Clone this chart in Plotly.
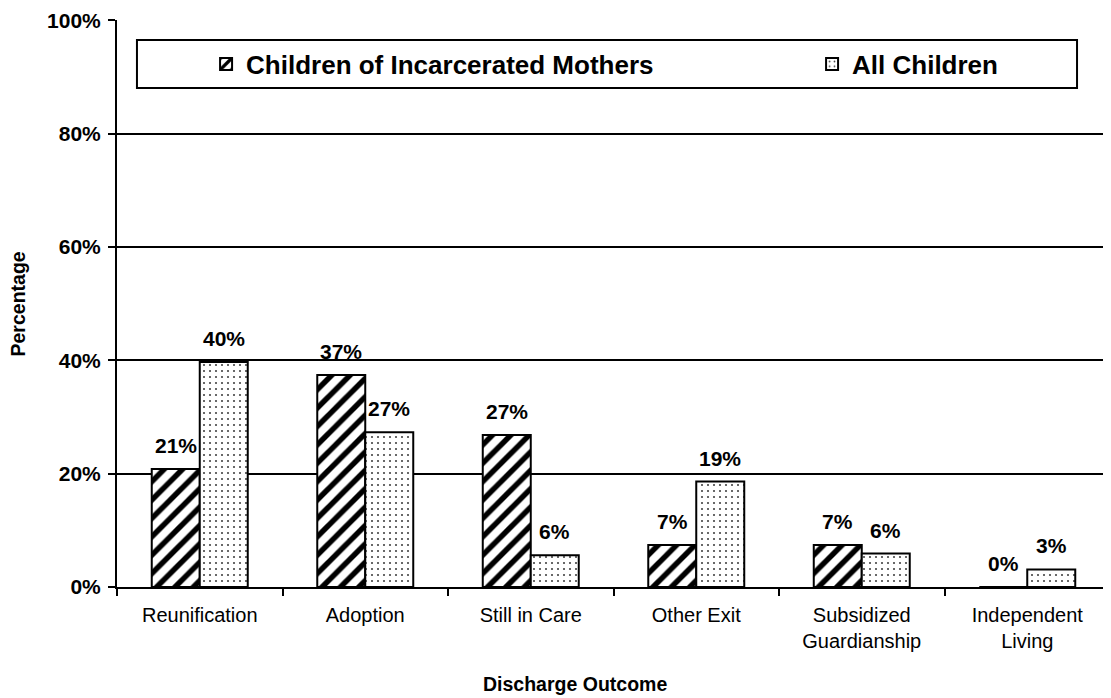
import plotly.graph_objects as go

categories = ["Reunification", "Adoption", "Still in Care", "Other Exit",
              "Subsidized<br>Guardianship", "Independent<br>Living"]
incarcerated = [20.8, 37.4, 26.8, 7.4, 7.4, 0.0]
all_children = [39.7, 27.3, 5.6, 18.6, 5.9, 3.1]
series_names = ["Children of Incarcerated Mothers", "All Children"]
y_ticks = [0, 20, 40, 60, 80, 100]

FONT = "Liberation Sans, Arial, sans-serif"
BARGAP = 0.42
PLOT_W = 1111 - 109 - 9


def labels(vals):
    return [f"{round(v)}%" for v in vals]


fig = go.Figure()
fig.add_trace(go.Bar(
    name=series_names[0], x=categories, y=incarcerated,
    legendwidth=561,
    marker=dict(color="white", line=dict(color="black", width=2),
                pattern=dict(shape="/", fgcolor="black", bgcolor="white",
                             size=13, solidity=0.42, fillmode="replace", fgopacity=1)),
))
fig.add_trace(go.Bar(
    name=series_names[1], x=categories, y=all_children,
    marker=dict(color="white", line=dict(color="black", width=2),
                pattern=dict(shape=".", fgcolor="#444444", bgcolor="white",
                             size=6, solidity=0.1, fillmode="replace", fgopacity=1)),
))

# value labels above each bar (offset by half a bar width within the group)
bar_px = PLOT_W / len(categories) * (1 - BARGAP) / 2
annotations = []
for vals, sign in ((incarcerated, -1), (all_children, 1)):
    for cat, v, t in zip(categories, vals, labels(vals)):
        annotations.append(dict(
            x=cat, y=v, xref="x", yref="y", text=t, showarrow=False,
            xanchor="center", yanchor="bottom", xshift=sign * bar_px / 2, yshift=10,
            font=dict(family=FONT, size=21, color="black", weight="bold")))

annotations += [
    dict(text="Discharge Outcome", xref="paper", yref="paper", x=0.461, y=-0.1711,
         xanchor="center", yanchor="middle", showarrow=False,
         font=dict(family=FONT, size=19.5, color="black", weight="bold")),
    dict(text="Percentage", xref="paper", yref="paper", x=-0.0997, y=0.5,
         xanchor="center", yanchor="middle", showarrow=False, textangle=-90,
         font=dict(family=FONT, size=19.5, color="black", weight="bold")),
]

fig.update_layout(
    width=1111, height=698,
    paper_bgcolor="white", plot_bgcolor="white",
    margin=dict(l=109, r=9, t=12, b=119, autoexpand=False),
    barmode="group", bargap=BARGAP, bargroupgap=0,
    font=dict(family=FONT, color="black"),
    showlegend=True,
    legend=dict(orientation="h", x=0.0897, xanchor="left", y=0.9224, yanchor="middle",
                bgcolor="rgba(0,0,0,0)", borderwidth=0,
                font=dict(family=FONT, size=26, color="black", weight="bold")),
    shapes=[dict(type="rect", xref="paper", yref="paper",
                 x0=0.0201, x1=0.9668, y0=0.8801, y1=0.9647,
                 line=dict(color="black", width=2), fillcolor="white", layer="above")],
    annotations=annotations,
)
fig.update_yaxes(range=[0, 100.05], tickvals=y_ticks, ticktext=[f"{v}%" for v in y_ticks],
                 showgrid=True, gridcolor="black", gridwidth=2,
                 showline=True, linecolor="black", linewidth=2,
                 ticks="outside", ticklen=7, tickwidth=2, tickcolor="black",
                 ticklabelstandoff=3, ticklabeloverflow="allow",
                 tickfont=dict(family=FONT, size=21, color="black", weight="bold"),
                 zeroline=False)
fig.update_xaxes(showline=True, linecolor="black", linewidth=2,
                 ticks="outside", tickson="boundaries", ticklen=7, tickwidth=2, tickcolor="black",
                 ticklabelstandoff=9,
                 tickfont=dict(family=FONT, size=20, color="black"))

fig.write_html("out.html")
